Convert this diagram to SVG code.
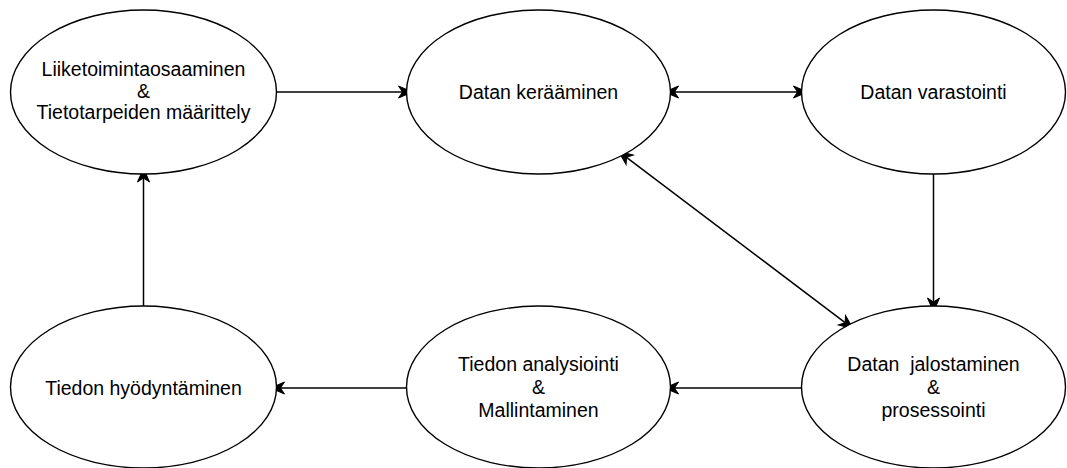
<svg xmlns="http://www.w3.org/2000/svg" width="1067" height="468" viewBox="0 0 1067 468">
<style>
.node ellipse{fill:#fff;stroke:#000;stroke-width:1.4}
.node text{font-family:"Liberation Sans",Arial,Helvetica,sans-serif;font-size:19.5px;fill:#000;text-anchor:middle;white-space:pre}
.edge{fill:none;stroke:#000;stroke-width:1.5}
</style>
<defs>
<marker id="arr" markerUnits="userSpaceOnUse" markerWidth="16" markerHeight="14" refX="4" refY="6" orient="auto-start-reverse" overflow="visible">
<path d="M0,0 L14,6 L0,12 L4,6 Z" fill="#000" stroke="#000" stroke-width="1" stroke-linejoin="miter"/>
</marker>
</defs>
<rect width="1067" height="468" fill="#fff"/>
<g id="connectors">
<path class="edge" d="M276.5,92 L402.5,92" marker-end="url(#arr)"/>
<path class="edge" d="M674.5,92 L797.5,92" marker-start="url(#arr)" marker-end="url(#arr)"/>
<path class="edge" d="M933.5,174 L933.5,302" marker-end="url(#arr)"/>
<path class="edge" d="M801.5,388 L674.5,388" marker-end="url(#arr)"/>
<path class="edge" d="M406.5,388 L280.5,388" marker-end="url(#arr)"/>
<path class="edge" d="M143.5,306 L143.5,178" marker-end="url(#arr)"/>
<path class="edge" d="M626.5,157.4 L845.1,322.6" marker-start="url(#arr)" marker-end="url(#arr)"/>
</g>
<g id="n1" class="node">
<ellipse cx="143.5" cy="92" rx="133" ry="82"/>
<text x="143.5" y="76">Liiketoimintaosaaminen</text>
<text x="143.5" y="97.5">&amp;</text>
<text x="143.5" y="119">Tietotarpeiden määrittely</text>
</g>
<g id="n2" class="node">
<ellipse cx="538.5" cy="92" rx="132" ry="82"/>
<text x="538.5" y="99">Datan kerääminen</text>
</g>
<g id="n3" class="node">
<ellipse cx="933.5" cy="92" rx="132" ry="82"/>
<text x="933.5" y="99">Datan varastointi</text>
</g>
<g id="n4" class="node">
<ellipse cx="143.5" cy="387" rx="133" ry="81"/>
<text x="143.5" y="395">Tiedon hyödyntäminen</text>
</g>
<g id="n5" class="node">
<ellipse cx="538.5" cy="387" rx="132" ry="81"/>
<text x="538.5" y="371">Tiedon analysiointi</text>
<text x="538.5" y="394">&amp;</text>
<text x="538.5" y="417">Mallintaminen</text>
</g>
<g id="n6" class="node">
<ellipse cx="933.5" cy="387" rx="132" ry="81"/>
<text x="933.5" y="371">Datan  jalostaminen</text>
<text x="933.5" y="394">&amp;</text>
<text x="933.5" y="417">prosessointi</text>
</g>
</svg>
